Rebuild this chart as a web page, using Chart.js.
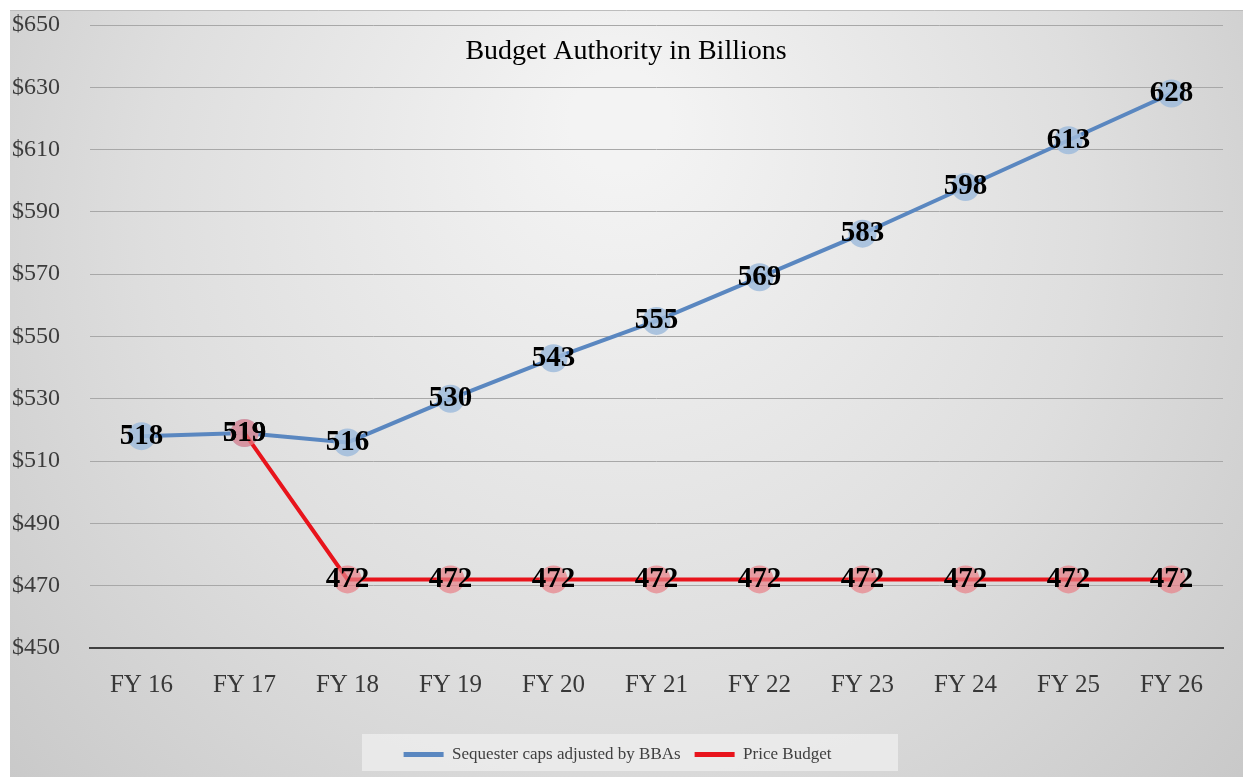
<!DOCTYPE html>
<html>
<head>
<meta charset="utf-8">
<title>Budget Authority in Billions</title>
<script src="https://cdn.jsdelivr.net/npm/chart.js@4.4.1/dist/chart.umd.min.js"></script>
<style>
  html, body { margin: 0; padding: 0; background: #fff; }
  #wrap { position: relative; width: 1243px; height: 777px; }
</style>
</head>
<body>
<div id="wrap"><canvas id="budgetChart" width="1243" height="777"></canvas></div>
<script>
const years = ['FY 16', 'FY 17', 'FY 18', 'FY 19', 'FY 20', 'FY 21', 'FY 22', 'FY 23', 'FY 24', 'FY 25', 'FY 26'];
const sequesterCaps = [518, 519, 516, 530, 543, 555, 569, 583, 598, 613, 628];
const priceBudget = [null, 519, 472, 472, 472, 472, 472, 472, 472, 472, 472];
const yTicks = [450, 470, 490, 510, 530, 550, 570, 590, 610, 630, 650];

const serif = '"Liberation Serif", "DejaVu Serif", serif';

// fond gris en dégradé + cadre
const backgroundPlugin = {
  id: 'bg',
  beforeDraw(chart) {
    const ctx = chart.ctx;
    ctx.save();
    const g = ctx.createRadialGradient(620, 120, 50, 620, 300, 900);
    g.addColorStop(0, '#f3f3f3');
    g.addColorStop(0.5, '#dedede');
    g.addColorStop(1, '#c2c2c2');
    ctx.fillStyle = g;
    ctx.fillRect(10, 10, chart.width - 10, chart.height - 10);
    ctx.strokeStyle = '#bdbdbd';
    ctx.lineWidth = 1;
    ctx.beginPath();
    ctx.moveTo(10, 10.5);
    ctx.lineTo(chart.width, 10.5);
    ctx.stroke();

    // boîte de la légende
    const lg = chart.legend;
    ctx.fillStyle = 'rgba(235,235,235,0.9)';
    ctx.fillRect(362, lg.top + 2, 536, lg.height - 4);
    ctx.restore();
  }
};

// titre + étiquettes de valeurs
const labelsPlugin = {
  id: 'valueLabels',
  afterDatasetsDraw(chart) {
    const ctx = chart.ctx;
    ctx.save();
    ctx.fillStyle = '#000';
    ctx.font = '28px ' + serif;
    ctx.textAlign = 'center';
    ctx.textBaseline = 'middle';
    ctx.fillText('Budget Authority in Billions', 626, 52);

    ctx.font = 'bold 29px ' + serif;
    chart.data.datasets.forEach((ds, i) => {
      const meta = chart.getDatasetMeta(i);
      meta.data.forEach((pt, j) => {
        if (ds.data[j] === null) return;
        ctx.fillText(String(ds.data[j]), pt.x, pt.y);
      });
    });
    ctx.restore();
  }
};

const ctx = document.getElementById('budgetChart').getContext('2d');
new Chart(ctx, {
  type: 'line',
  data: {
    labels: years,
    datasets: [
      {
        label: 'Sequester caps adjusted by BBAs',
        data: sequesterCaps,
        borderColor: '#5a87c0',
        borderWidth: 4,
        pointRadius: 14,
        pointBorderWidth: 0,
        pointBackgroundColor: 'rgba(160,188,220,0.85)',
        order: 1
      },
      {
        label: 'Price Budget',
        data: priceBudget,
        borderColor: '#e8141c',
        borderWidth: 4,
        pointRadius: 14,
        pointBorderWidth: 0,
        pointBackgroundColor: 'rgba(232,128,136,0.7)',
        order: 0
      }
    ]
  },
  options: {
    responsive: false,
    animation: false,
    layout: { autoPadding: false, padding: { left: 12, right: 20, top: 25, bottom: 4 } },
    plugins: {
      tooltip: { enabled: false },
      legend: {
        position: 'bottom',
        labels: {
          font: { family: serif, size: 17 },
          color: '#404040',
          boxWidth: 40,
          boxHeight: 5,
          padding: 14,
          generateLabels(chart) {
            return chart.data.datasets.map((ds, i) => ({
              text: ds.label,
              fillStyle: ds.borderColor,
              strokeStyle: ds.borderColor,
              lineWidth: 0,
              fontColor: '#404040',
              datasetIndex: i
            }));
          }
        }
      }
    },
    scales: {
      x: {
        offset: true,
        grid: { display: false },
        border: { color: '#404040', width: 2 },
        ticks: {
          font: { family: serif, size: 25 },
          color: '#383838',
          padding: 14
        },
        afterFit(scale) { scale.height = 84; }
      },
      y: {
        min: 450,
        max: 650,
        afterBuildTicks(scale) { scale.ticks = yTicks.map(v => ({ value: v })); },
        grid: { color: '#a8a8a8', lineWidth: 1, drawTicks: false },
        border: { display: false },
        ticks: {
          font: { family: serif, size: 24 },
          color: '#3c3c3c',
          crossAlign: 'far',
          padding: 24,
          callback: v => '$' + v
        },
        afterFit(scale) {
          scale.width = 78;
          scale.paddingTop = 0;
          scale.paddingBottom = 0;
        }
      }
    }
  },
  plugins: [backgroundPlugin, labelsPlugin]
});
</script>
</body>
</html>
